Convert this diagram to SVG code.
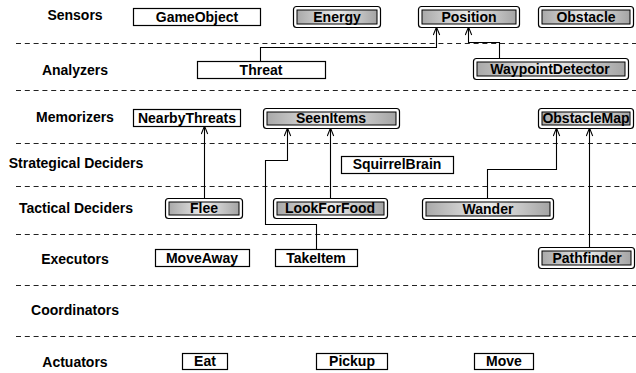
<svg xmlns="http://www.w3.org/2000/svg" width="636" height="373" viewBox="0 0 636 373">
<defs>
<linearGradient id="g" x1="0" y1="0" x2="1" y2="0">
<stop offset="0" stop-color="#a9a9a9"/>
<stop offset="0.5" stop-color="#ececec"/>
<stop offset="1" stop-color="#a4a4a4"/>
</linearGradient>
<marker id="arr" viewBox="0 0 10 10" refX="10" refY="5" markerWidth="9" markerHeight="8" markerUnits="userSpaceOnUse" orient="auto">
<path d="M0,1 L10,5 L0,9" fill="none" stroke="#000" stroke-width="1.3"/>
</marker>
<style>
text{font-family:"Liberation Sans",Arial,Helvetica,sans-serif;font-weight:bold;font-size:14px;fill:#000}
.lbl{text-anchor:middle}
.t{text-anchor:middle}
.plain{fill:#fff;stroke:#000;stroke-width:1.2}
.outer{fill:#fff;stroke:#000;stroke-width:1.2}
.inner{fill:url(#g);stroke:#000;stroke-width:1}
.dash{stroke:#222;stroke-width:1.2;stroke-dasharray:5,3.8;fill:none}
.conn{fill:none;stroke:#000;stroke-width:1.1;marker-end:url(#arr)}
</style>
</defs>
<rect width="636" height="373" fill="#fff"/>
<g id="separators">
<line class="dash" x1="16" y1="43.5" x2="636" y2="43.5"/>
<line class="dash" x1="16" y1="90.5" x2="636" y2="90.5"/>
<line class="dash" x1="16" y1="143.5" x2="636" y2="143.5"/>
<line class="dash" x1="16" y1="186.5" x2="636" y2="186.5"/>
<line class="dash" x1="16" y1="234.5" x2="636" y2="234.5"/>
<line class="dash" x1="16" y1="285.5" x2="636" y2="285.5"/>
<line class="dash" x1="16" y1="336.5" x2="636" y2="336.5"/>
</g>
<g id="row-labels">
<text class="lbl" x="75" y="20">Sensors</text>
<text class="lbl" x="75" y="75">Analyzers</text>
<text class="lbl" x="75" y="122">Memorizers</text>
<text class="lbl" x="76" y="168">Strategical Deciders</text>
<text class="lbl" x="76" y="213">Tactical Deciders</text>
<text class="lbl" x="75" y="264">Executors</text>
<text class="lbl" x="75" y="315">Coordinators</text>
<text class="lbl" x="75" y="367">Actuators</text>
</g>
<g id="connectors">
<path class="conn" d="M260.5,61 V47.5 H436.5 V27"/>
<path class="conn" d="M499.5,58 V42.5 H468.5 V27"/>
<path class="conn" d="M204.5,198 V126"/>
<path class="conn" d="M316.5,249 V224.5 H265.5 V160.5 H287.5 V128"/>
<path class="conn" d="M330.5,198 V128"/>
<path class="conn" d="M487.5,198 V169.5 H556.5 V128"/>
<path class="conn" d="M589.5,247 V128"/>
</g>
<g id="GameObject"><rect class="plain" x="133.5" y="8.5" width="127" height="17"/><text class="t" x="197" y="22">GameObject</text></g>
<g id="Energy"><rect class="outer" x="293.5" y="6.5" width="87" height="21" rx="3"/><rect class="inner" x="297" y="10" width="80" height="14"/><text class="t" x="337" y="22">Energy</text></g>
<g id="Position"><rect class="outer" x="418.5" y="6.5" width="101" height="21" rx="3"/><rect class="inner" x="422" y="10" width="94" height="14"/><text class="t" x="469" y="22">Position</text></g>
<g id="Obstacle"><rect class="outer" x="538.5" y="6.5" width="95" height="21" rx="3"/><rect class="inner" x="542" y="10" width="88" height="14"/><text class="t" x="586" y="22">Obstacle</text></g>
<g id="Threat"><rect class="plain" x="197.5" y="61.5" width="128" height="17"/><text class="t" x="261" y="75">Threat</text></g>
<g id="WaypointDetector"><rect class="outer" x="473.5" y="58.5" width="155" height="21" rx="3"/><rect class="inner" x="477" y="62" width="148" height="14"/><text class="t" x="550" y="74">WaypointDetector</text></g>
<g id="NearbyThreats"><rect class="plain" x="133.5" y="109.5" width="107" height="17"/><text class="t" x="187" y="123">NearbyThreats</text></g>
<g id="SeenItems"><rect class="outer" x="263.5" y="108.5" width="136" height="20" rx="3"/><rect class="inner" x="267" y="112" width="129" height="13"/><text class="t" x="331" y="123">SeenItems</text></g>
<g id="ObstacleMap"><rect class="outer" x="538.5" y="108.5" width="95" height="20" rx="3"/><rect class="inner" x="542" y="112" width="88" height="13"/><text class="t" x="586" y="123">ObstacleMap</text></g>
<g id="SquirrelBrain"><rect class="plain" x="341.5" y="156.5" width="112" height="17"/><text class="t" x="397" y="169">SquirrelBrain</text></g>
<g id="Flee"><rect class="outer" x="165.5" y="198.5" width="77" height="20" rx="3"/><rect class="inner" x="169" y="202" width="70" height="13"/><text class="t" x="204" y="213">Flee</text></g>
<g id="LookForFood"><rect class="outer" x="273.5" y="198.5" width="114" height="20" rx="3"/><rect class="inner" x="277" y="202" width="107" height="13"/><text class="t" x="330" y="213">LookForFood</text></g>
<g id="Wander"><rect class="outer" x="422.5" y="198.5" width="131" height="21" rx="3"/><rect class="inner" x="426" y="202" width="124" height="14"/><text class="t" x="488" y="214">Wander</text></g>
<g id="MoveAway"><rect class="plain" x="155.5" y="249.5" width="94" height="17"/><text class="t" x="202" y="263">MoveAway</text></g>
<g id="TakeItem"><rect class="plain" x="275.5" y="249.5" width="82" height="17"/><text class="t" x="316" y="263">TakeItem</text></g>
<g id="Pathfinder"><rect class="outer" x="538.5" y="247.5" width="96" height="21" rx="3"/><rect class="inner" x="542" y="251" width="89" height="14"/><text class="t" x="587" y="263">Pathfinder</text></g>
<g id="Eat"><rect class="plain" x="182.5" y="353.5" width="45" height="16"/><text class="t" x="205" y="366">Eat</text></g>
<g id="Pickup"><rect class="plain" x="316.5" y="353.5" width="71" height="16"/><text class="t" x="352" y="366">Pickup</text></g>
<g id="Move"><rect class="plain" x="474.5" y="353.5" width="59" height="16"/><text class="t" x="504" y="366">Move</text></g>
</svg>
